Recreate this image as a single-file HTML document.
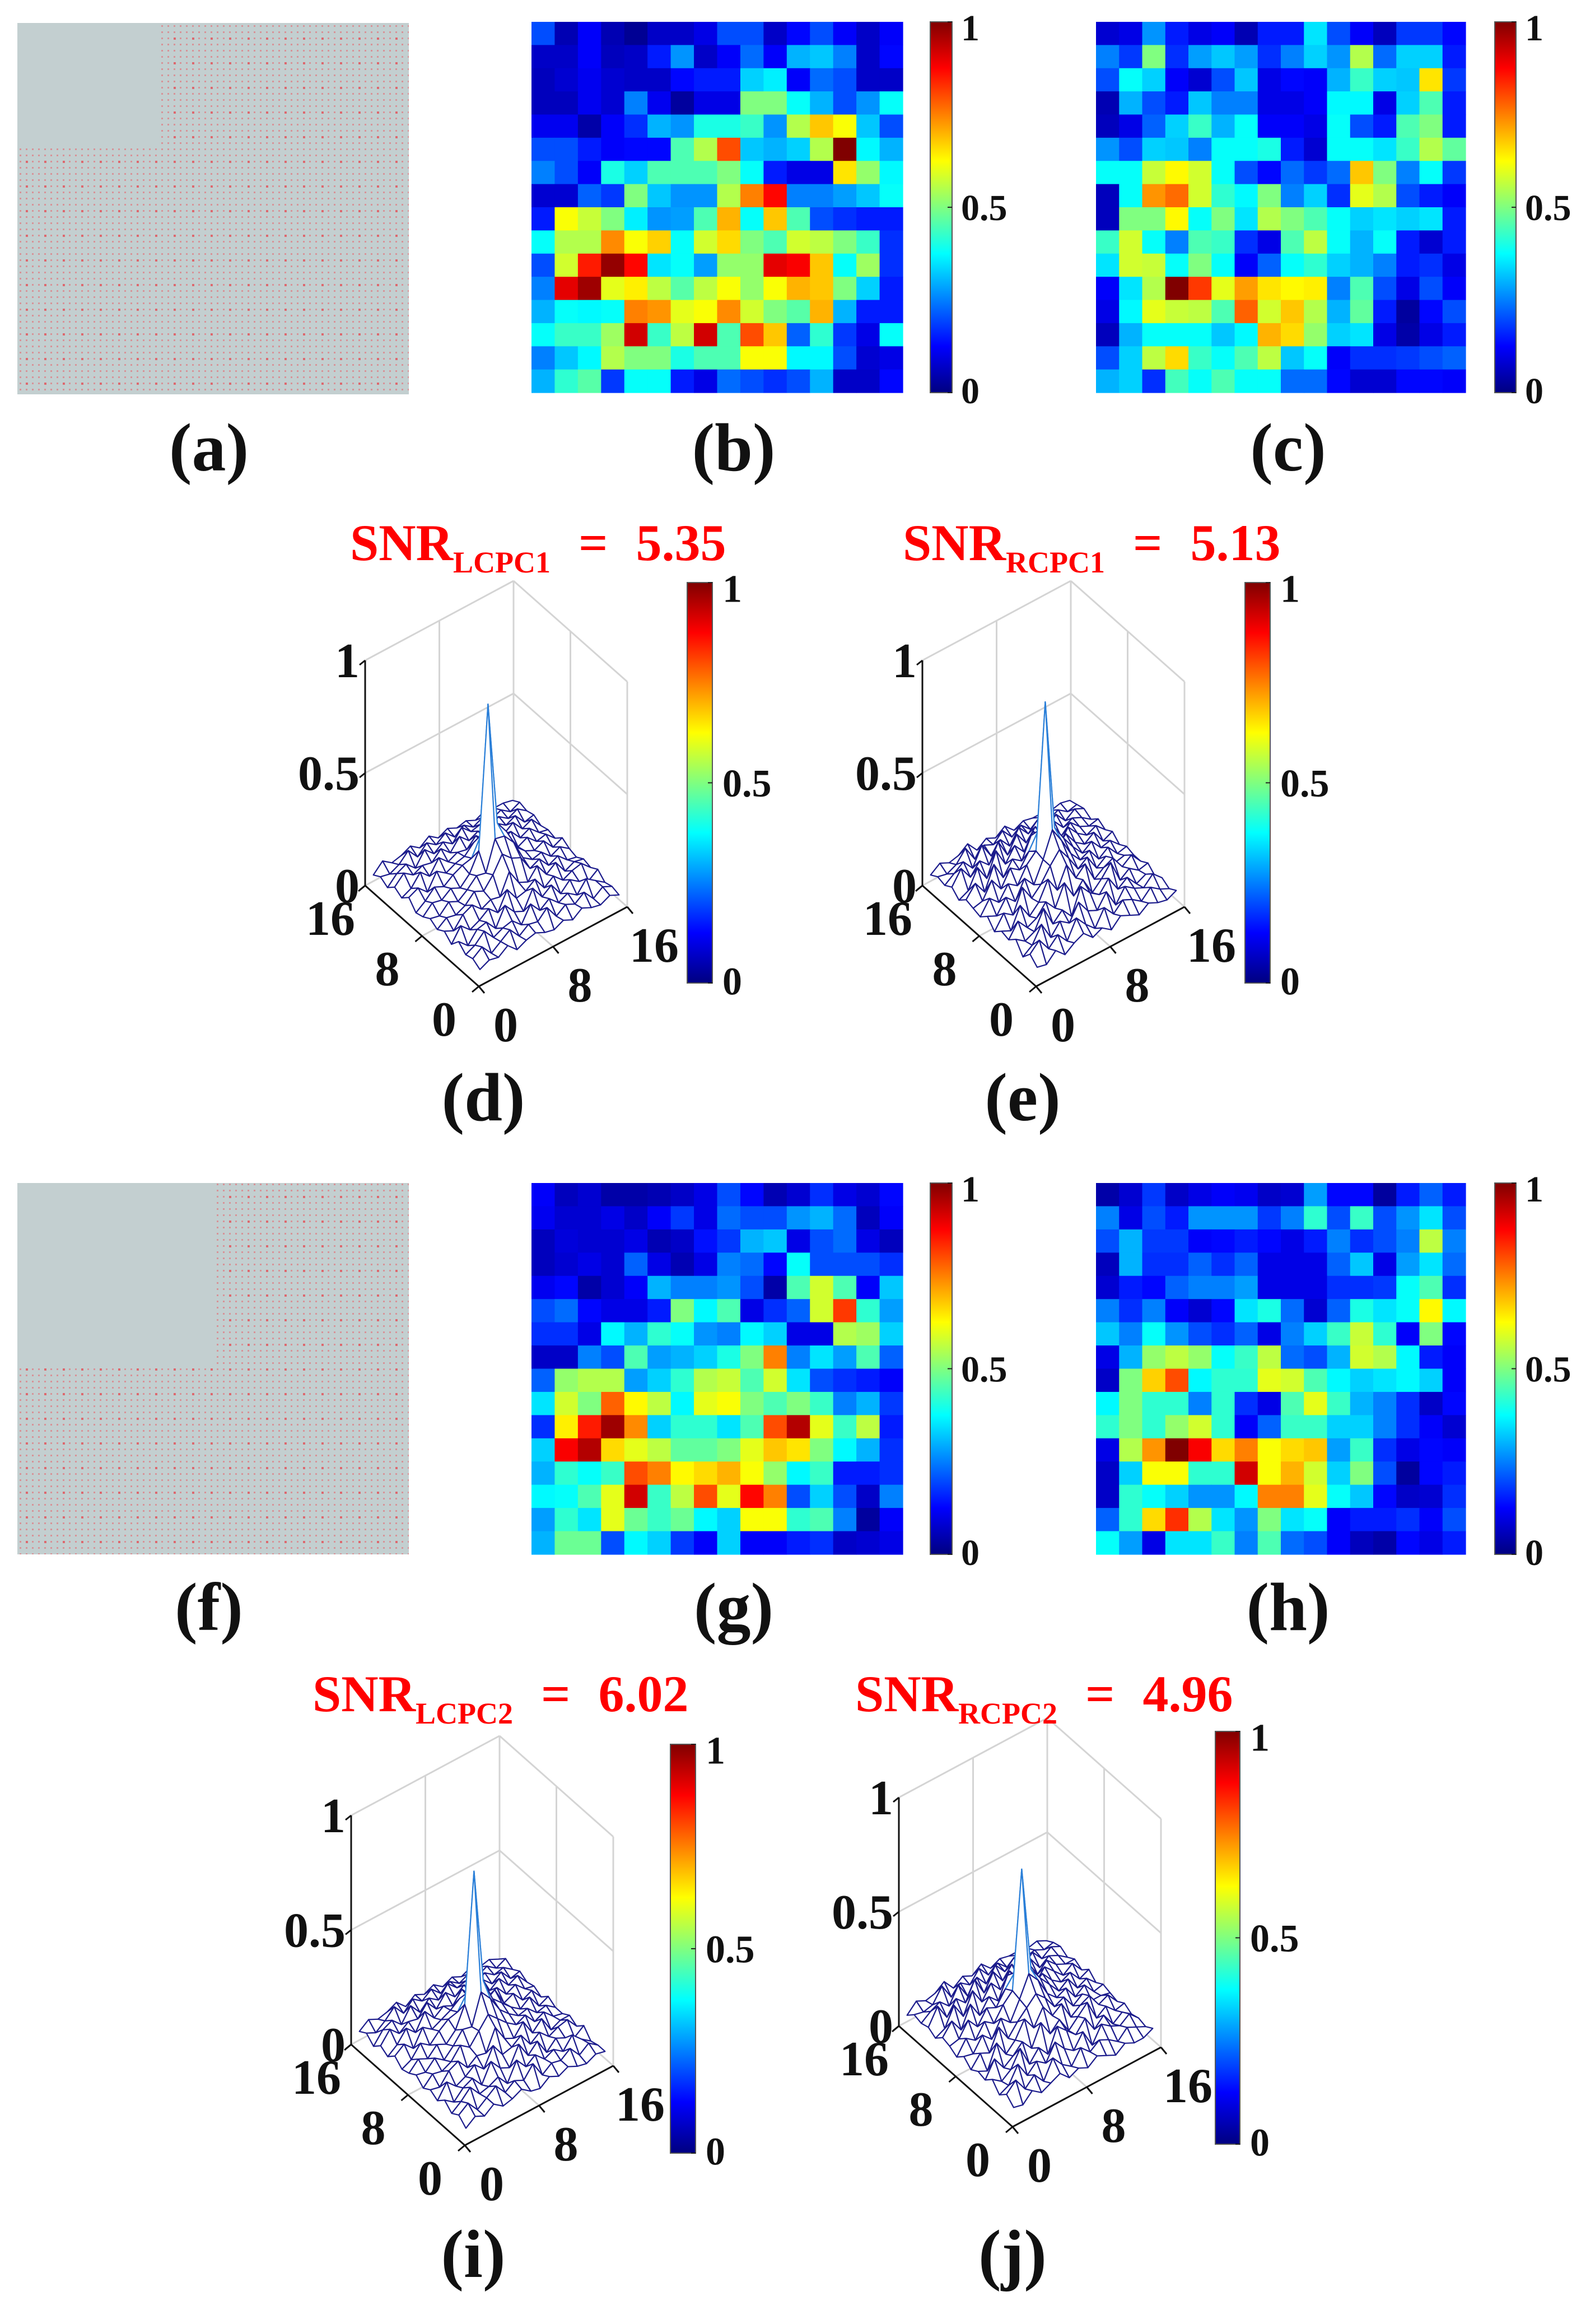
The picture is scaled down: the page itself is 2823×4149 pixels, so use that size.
<!DOCTYPE html>
<html><head><meta charset="utf-8"><style>
html,body{margin:0;padding:0;background:#fff}
svg{display:block}
text{font-family:"Liberation Serif",serif;font-weight:bold}
</style></head><body>
<svg id="fig" xmlns="http://www.w3.org/2000/svg" width="2823" height="4149" viewBox="0 0 2823 4149">
<defs>
<linearGradient id="jet" x1="0" y1="1" x2="0" y2="0">
<stop offset="0" stop-color="#000080"/><stop offset="0.125" stop-color="#0000ff"/><stop offset="0.375" stop-color="#00ffff"/><stop offset="0.625" stop-color="#ffff00"/><stop offset="0.875" stop-color="#ff0000"/><stop offset="1" stop-color="#800000"/>
</linearGradient>
<pattern id="dots" x="31" y="41" width="11" height="11" patternUnits="userSpaceOnUse"><rect x="4" y="4" width="3" height="3" fill="#e07a80" opacity="0.7"/></pattern>
<pattern id="dots2" x="31" y="41" width="33" height="44" patternUnits="userSpaceOnUse"><rect x="15" y="26" width="4" height="4" fill="#e05a60" opacity="0.8"/></pattern>
</defs>
<g>
<rect x="31" y="41" width="699" height="663" fill="#c3cfd0"/>
<rect x="31" y="41" width="699" height="663" fill="url(#dots)"/>
<rect x="31" y="41" width="699" height="663" fill="url(#dots2)"/>
<rect x="31" y="41" width="253" height="216" fill="#c3cfd0"/>
</g>
<g>
<rect x="31" y="2112" width="699" height="663" fill="#c3cfd0"/>
<rect x="31" y="2112" width="699" height="663" fill="url(#dots)"/>
<rect x="31" y="2112" width="699" height="663" fill="url(#dots2)"/>
<rect x="31" y="2112" width="350" height="330" fill="#c3cfd0"/>
</g>
<g id="layer"></g>
<g font-size="122" text-anchor="middle" fill="#111">
<text x="373" y="840">(a)</text>
<text x="1310" y="840">(b)</text>
<text x="2300" y="840">(c)</text>
<text x="863" y="2000">(d)</text>
<text x="1826" y="2000">(e)</text>
<text x="373" y="2910">(f)</text>
<text x="1310" y="2910">(g)</text>
<text x="2300" y="2910">(h)</text>
<text x="845" y="4065">(i)</text>
<text x="1808" y="4065">(j)</text>
</g>
<g fill="#ff0000" font-size="92">
<text x="625" y="1000">SNR<tspan font-size="54" dy="22">LCPC1</tspan><tspan dy="-22" dx="50">=</tspan><tspan dx="50">5.35</tspan></text>
<text x="1612" y="1000">SNR<tspan font-size="54" dy="22">RCPC1</tspan><tspan dy="-22" dx="50">=</tspan><tspan dx="50">5.13</tspan></text>
<text x="558" y="3055">SNR<tspan font-size="54" dy="22">LCPC2</tspan><tspan dy="-22" dx="50">=</tspan><tspan dx="50">6.02</tspan></text>
<text x="1527" y="3055">SNR<tspan font-size="54" dy="22">RCPC2</tspan><tspan dy="-22" dx="50">=</tspan><tspan dx="50">4.96</tspan></text>
</g>
</svg>
<script>
const HEAT_B=[
[.2,.05,.12,.05,.02,.07,.07,.1,.2,.2,.07,.13,.2,.12,.07,.12],
[.07,.07,.12,.06,.07,.15,.27,.07,.12,.23,.12,.3,.32,.25,.07,.13],
[.06,.08,.11,.08,.07,.07,.13,.15,.15,.33,.36,.12,.23,.2,.07,.07],
[.06,.06,.11,.08,.25,.11,.03,.1,.1,.5,.5,.38,.3,.2,.27,.38],
[.11,.11,.04,.12,.17,.3,.27,.4,.4,.43,.27,.55,.68,.62,.32,.2],
[.2,.2,.15,.12,.13,.13,.45,.55,.8,.32,.3,.33,.55,1,.37,.3],
[.25,.2,.12,.4,.33,.45,.45,.45,.5,.38,.15,.1,.1,.65,.52,.37],
[.08,.08,.22,.18,.5,.32,.27,.27,.55,.75,.87,.25,.25,.28,.32,.38],
[.15,.62,.57,.5,.36,.27,.28,.45,.7,.38,.68,.45,.2,.17,.15,.15],
[.38,.55,.55,.74,.62,.67,.38,.58,.66,.5,.45,.58,.56,.5,.43,.17],
[.2,.58,.85,.98,.87,.35,.38,.28,.52,.52,.9,.88,.68,.38,.53,.17],
[.25,.9,.97,.6,.64,.56,.46,.56,.62,.52,.62,.7,.68,.5,.33,.15],
[.3,.38,.37,.38,.75,.73,.6,.62,.74,.58,.5,.46,.7,.3,.15,.15],
[.38,.43,.43,.53,.92,.43,.56,.92,.45,.8,.68,.22,.42,.18,.1,.38],
[.25,.32,.37,.55,.5,.5,.4,.45,.45,.62,.62,.37,.37,.2,.08,.1],
[.3,.42,.46,.18,.38,.38,.15,.1,.23,.2,.17,.2,.3,.07,.07,.13]];
const HEAT_C=[
[.08,.1,.27,.15,.1,.12,.05,.15,.15,.35,.2,.12,.06,.18,.18,.13],
[.25,.18,.5,.17,.28,.32,.28,.17,.25,.33,.27,.55,.23,.33,.33,.15],
[.2,.38,.33,.12,.08,.2,.32,.1,.13,.12,.3,.43,.33,.32,.65,.18],
[.05,.3,.2,.15,.32,.25,.25,.1,.1,.12,.37,.37,.1,.33,.45,.15],
[.06,.1,.22,.33,.43,.3,.38,.12,.12,.1,.38,.2,.15,.45,.5,.15],
[.27,.2,.33,.32,.25,.38,.38,.4,.15,.08,.38,.38,.35,.43,.55,.47],
[.38,.38,.57,.63,.58,.38,.2,.13,.23,.18,.23,.68,.5,.25,.38,.18],
[.06,.38,.73,.77,.58,.42,.37,.5,.25,.33,.17,.6,.55,.2,.15,.12],
[.06,.5,.5,.63,.38,.5,.35,.55,.5,.45,.38,.33,.35,.33,.35,.15],
[.43,.58,.38,.25,.45,.43,.17,.1,.45,.56,.38,.3,.38,.15,.08,.15],
[.35,.58,.57,.38,.5,.38,.12,.22,.38,.42,.33,.3,.25,.15,.17,.1],
[.12,.35,.55,1,.82,.6,.72,.65,.63,.64,.25,.45,.2,.1,.2,.12],
[.1,.37,.6,.57,.56,.45,.78,.58,.68,.55,.3,.47,.15,.03,.13,.2],
[.06,.3,.38,.38,.38,.32,.37,.7,.66,.52,.33,.35,.1,.04,.1,.15],
[.2,.33,.56,.66,.43,.38,.45,.56,.32,.38,.12,.17,.17,.18,.2,.22],
[.3,.33,.17,.44,.38,.45,.38,.38,.23,.23,.13,.08,.08,.13,.13,.12]];
const HEAT_G=[
[.12,.06,.08,.04,.04,.05,.07,.1,.2,.13,.05,.08,.17,.1,.08,.13],
[.11,.08,.08,.1,.07,.12,.18,.1,.23,.2,.2,.27,.3,.23,.06,.12],
[.06,.09,.08,.08,.1,.05,.07,.14,.18,.3,.32,.1,.2,.23,.1,.06],
[.06,.08,.1,.08,.22,.1,.05,.1,.25,.23,.13,.38,.2,.2,.2,.17],
[.11,.13,.04,.08,.12,.3,.25,.25,.27,.2,.04,.45,.58,.45,.12,.32],
[.2,.23,.13,.1,.1,.15,.5,.37,.45,.1,.17,.22,.58,.82,.42,.28],
[.17,.17,.1,.37,.3,.42,.38,.27,.25,.37,.33,.1,.1,.55,.53,.33],
[.07,.07,.25,.2,.45,.28,.3,.33,.4,.5,.75,.25,.35,.28,.45,.22],
[.22,.52,.55,.55,.28,.33,.42,.55,.57,.45,.58,.35,.2,.17,.15,.12],
[.35,.58,.5,.78,.63,.56,.37,.6,.62,.5,.45,.5,.43,.25,.3,.18],
[.17,.64,.85,.97,.74,.33,.42,.42,.35,.45,.8,.95,.6,.43,.56,.15],
[.33,.88,.95,.66,.6,.56,.47,.47,.5,.6,.68,.65,.5,.37,.3,.17],
[.3,.42,.38,.43,.8,.75,.63,.66,.7,.62,.52,.37,.43,.15,.15,.17],
[.37,.38,.45,.6,.92,.43,.56,.8,.6,.87,.75,.2,.33,.2,.07,.25],
[.28,.42,.35,.6,.48,.43,.48,.37,.33,.62,.62,.42,.45,.25,.03,.12],
[.3,.48,.48,.2,.37,.33,.18,.12,.33,.12,.12,.15,.17,.07,.08,.1]];
const HEAT_H=[
[.04,.08,.18,.07,.1,.12,.11,.07,.08,.28,.13,.13,.03,.15,.22,.15],
[.25,.1,.2,.15,.27,.27,.27,.18,.25,.42,.2,.43,.2,.27,.35,.2],
[.2,.3,.18,.18,.12,.13,.15,.13,.1,.15,.25,.17,.2,.25,.56,.25],
[.06,.3,.17,.17,.22,.17,.22,.1,.1,.1,.22,.32,.1,.28,.35,.23],
[.08,.15,.13,.22,.25,.25,.28,.1,.1,.1,.17,.17,.18,.38,.45,.17],
[.25,.17,.25,.12,.08,.13,.35,.4,.23,.08,.22,.4,.35,.38,.63,.37],
[.32,.25,.38,.27,.2,.17,.22,.1,.25,.33,.43,.57,.42,.12,.5,.13],
[.1,.3,.52,.56,.52,.38,.43,.56,.23,.2,.3,.58,.55,.37,.15,.12],
[.07,.5,.67,.8,.37,.42,.42,.6,.58,.45,.37,.33,.35,.37,.33,.12],
[.37,.5,.42,.42,.25,.42,.17,.1,.45,.6,.43,.3,.25,.17,.07,.13],
[.42,.5,.42,.52,.58,.42,.12,.22,.43,.43,.33,.33,.25,.17,.12,.08],
[.1,.55,.73,1,.88,.66,.75,.62,.66,.68,.28,.43,.17,.1,.13,.12],
[.07,.33,.62,.62,.42,.42,.92,.62,.7,.58,.33,.5,.2,.03,.13,.15],
[.07,.42,.38,.33,.27,.27,.37,.75,.75,.6,.38,.32,.13,.07,.08,.17],
[.22,.42,.66,.83,.55,.35,.27,.5,.35,.38,.12,.15,.15,.17,.12,.2],
[.38,.28,.1,.35,.35,.43,.25,.45,.23,.2,.12,.06,.04,.13,.1,.15]];
const SURF_D=[
[5,7,6,9,5,7,8,6,5,7,5,8,6,5,7,5],
[7,10,5,8,11,6,9,8,12,6,9,7,10,5,8,6],
[6,8,12,7,9,10,6,13,8,11,7,9,6,11,8,5],
[9,5,10,11,6,14,9,7,15,9,12,6,10,7,5,8],
[5,11,7,9,12,8,16,10,11,14,8,11,7,9,10,6],
[8,6,11,13,9,11,10,19,12,10,15,9,12,6,8,7],
[6,9,8,10,14,12,17,24,20,18,11,13,8,10,6,5],
[8,7,11,9,12,16,15,28,27,22,13,10,11,7,9,6],
[6,10,9,12,10,14,22,85,30,24,15,11,9,11,6,8],
[5,8,12,10,13,15,16,24,22,15,17,10,12,8,9,5],
[9,11,7,14,11,13,14,18,15,19,12,14,9,11,7,6],
[6,8,13,9,15,11,13,12,16,12,14,10,13,8,10,5],
[8,12,9,11,10,14,10,15,11,13,10,12,9,11,6,7],
[5,9,11,7,13,9,12,9,14,10,11,8,10,7,9,6],
[7,6,8,12,7,11,8,11,7,10,7,9,6,8,5,7],
[5,9,6,7,9,6,9,6,8,6,7,5,7,6,6,5]];
const SURF_E=[
[6,5,9,5,8,10,6,8,5,9,7,5,8,6,5,7],
[9,13,7,11,6,14,9,5,12,7,11,9,6,10,7,5],
[5,8,15,7,12,9,16,10,8,14,6,12,9,7,11,7],
[10,7,9,17,8,12,7,18,13,10,15,8,11,6,8,5],
[7,13,8,10,15,10,19,11,16,8,12,17,7,10,7,8],
[8,6,15,8,12,20,13,22,14,18,9,12,14,8,11,6],
[5,11,8,18,11,15,21,26,20,13,16,9,12,7,8,6],
[9,7,13,9,17,12,21,32,25,17,12,14,8,11,6,7],
[6,12,8,14,11,18,22,86,28,21,15,10,13,8,9,5],
[7,8,15,9,16,13,19,26,23,14,18,12,9,12,6,8],
[8,13,7,17,9,15,12,21,15,19,10,16,11,8,10,6],
[5,7,15,8,18,10,16,11,18,12,16,9,13,9,7,8],
[8,14,8,13,9,17,9,16,10,15,8,13,8,10,8,5],
[6,9,12,7,15,8,13,8,14,9,13,7,11,6,9,7],
[7,6,8,13,6,10,8,12,7,10,6,9,6,8,5,6],
[5,8,6,7,10,5,8,6,9,5,7,6,6,5,6,5]];
const SURF_I=[
[5,8,6,9,6,7,9,6,5,8,6,8,6,5,7,6],
[8,11,6,9,12,7,10,8,13,6,9,8,11,6,9,6],
[6,9,13,8,9,11,6,14,9,12,8,10,7,12,8,5],
[9,6,10,12,7,15,10,8,16,9,13,6,10,8,6,9],
[6,12,8,10,13,9,17,11,12,15,9,12,8,10,11,6],
[8,7,12,14,9,12,11,20,13,11,16,9,13,6,8,8],
[6,10,9,11,16,13,18,23,19,15,12,14,9,11,7,6],
[9,8,12,9,13,18,17,30,25,18,14,11,12,8,9,6],
[7,11,9,13,11,15,24,80,30,20,16,12,9,12,6,8],
[6,8,13,10,14,17,18,24,22,16,19,11,13,8,10,5],
[9,12,8,15,12,14,16,19,17,21,13,15,10,12,8,7],
[6,9,14,10,17,12,15,13,18,13,16,11,14,9,11,6],
[8,13,9,12,11,16,11,16,12,15,11,13,9,12,7,8],
[5,10,12,8,14,9,13,10,15,11,12,9,11,8,9,6],
[8,6,9,13,8,12,9,12,8,11,8,10,7,9,6,8],
[6,9,7,8,10,6,9,7,9,6,8,6,8,6,7,5]];
const SURF_J=[
[6,5,9,6,8,10,6,8,6,9,7,5,8,6,6,8],
[9,13,7,11,6,14,9,6,12,8,11,9,6,10,8,6],
[6,8,15,8,12,9,16,11,8,14,6,13,10,8,11,7],
[10,7,10,17,8,13,8,18,14,10,15,8,12,6,9,6],
[7,14,8,11,15,10,19,12,16,9,13,17,8,11,7,8],
[8,6,16,9,13,20,14,21,15,18,10,13,15,9,11,6],
[6,11,9,18,11,16,20,24,20,14,16,10,13,8,8,7],
[9,8,14,10,17,13,21,30,25,17,13,15,9,12,7,8],
[6,12,9,15,12,18,22,73,27,21,16,11,14,8,10,6],
[8,9,15,10,16,14,20,25,23,15,18,13,10,12,7,9],
[9,14,8,17,10,16,12,21,16,19,11,16,12,8,11,6],
[6,8,16,9,18,11,17,12,18,12,17,10,14,10,8,8],
[8,15,8,14,10,18,10,17,11,16,9,14,8,11,9,6],
[7,10,12,8,15,8,14,9,15,10,14,8,12,7,10,8],
[8,7,8,14,7,11,8,13,8,11,7,10,7,8,6,7],
[5,9,7,8,11,6,9,7,10,6,8,7,7,6,7,5]];
const CB_TICKS=["0","0.5","1"];
const CB_VALUES=[0,0.5,1];
const AXIS_TICKS=[0,8,16];

const NS="http://www.w3.org/2000/svg";
const layer=document.getElementById('layer');
function mk(tag,attrs,parent){const e=document.createElementNS(NS,tag);for(const k in attrs)e.setAttribute(k,attrs[k]);(parent||layer).appendChild(e);return e;}
function cl(v){return Math.max(0,Math.min(1,v));}
function jet(v){const r=cl(1.5-Math.abs(4*v-3)),g=cl(1.5-Math.abs(4*v-2)),b=cl(1.5-Math.abs(4*v-1));return `rgb(${Math.round(r*255)},${Math.round(g*255)},${Math.round(b*255)})`;}

function colorbar(name,x,y,w,h,lx,fs){
  const g=mk('g',{});
  
  
  mk('rect',{x:x,y:y,width:w,height:h,fill:'url(#jet)',stroke:'#555','stroke-width':2},g);
  CB_VALUES.forEach((v,k)=>{
    const ty=y+h-v*h;
    mk('line',{x1:x+w-8,x2:x+w,y1:ty,y2:ty,stroke:'#222','stroke-width':2},g);
    const t=mk('text',{x:lx,y:ty+fs*0.35+(v===1?10:(v===0?-4:0)),'font-size':fs,fill:'#111'},g);
    
    
    t.textContent=CB_TICKS[k];
  });
}

function heatmap(name,data,x0,y0,w,h){
  const g=mk('g',{});
  
  
  const n=data.length,m=data[0].length,cw=w/m,ch=h/n;
  data.forEach((row,r)=>row.forEach((v,c)=>{
    const cell=mk('rect',{x:x0+c*cw,y:y0+r*ch,width:cw+0.6,height:ch+0.6,fill:jet(v)},g);
    
    
  }));
}

function surface(name,data,dx,dy,zs){
  const g=mk('g',{});
  
  
  const F=[855+dx,1761+dy],EX=[265/16,-142/16],EY=[-203/16,-180/16];
  const P=(x,y,z)=>[F[0]+x*EX[0]+y*EY[0],F[1]+x*EX[1]+y*EY[1]-z*zs];
  const pl=(a,b,st,sw)=>mk('line',{x1:a[0],y1:a[1],x2:b[0],y2:b[1],stroke:st,'stroke-width':sw},g);
  const grey='#d4d4d4';
  [[0,16],[8,16],[16,16],[16,8],[16,0]].forEach(p=>pl(P(p[0],p[1],0),P(p[0],p[1],1),grey,3));
  [0,0.5,1].forEach(z=>{pl(P(0,16,z),P(16,16,z),grey,3);pl(P(16,16,z),P(16,0,z),grey,3);});
  pl(P(8,0,0),P(8,16,0),grey,3);pl(P(0,8,0),P(16,8,0),grey,3);
  const n=data.length;
  const X=i=>0.5+i*15/(n-1);
  const quads=[];
  for(let j=0;j<n-1;j++)for(let i=0;i<n-1;i++)quads.push([i,j]);
  quads.sort((a,b)=>(b[0]+b[1])-(a[0]+a[1]));
  quads.forEach(([i,j])=>{
    const z=(a,b)=>data[b][a]/100;
    const pts=[[i,j],[i+1,j],[i+1,j+1],[i,j+1]].map(q=>P(X(q[0]),X(q[1]),z(q[0],q[1])));
    const mx=Math.max(z(i,j),z(i+1,j),z(i+1,j+1),z(i,j+1));
    const poly=mk('polygon',{points:pts.map(p=>p.join(',')).join(' '),fill:'#fff',stroke:mx>0.5?'#2a7fd8':'#1c1c8c','stroke-width':2.2,'stroke-linejoin':'round'},g);
    
    
  });
  const L0=P(0,16,0),L1=P(0,16,1);
  pl(L0,L1,'#111',3);
  [0,0.5,1].forEach(z=>{const p=P(0,16,z);pl(p,[p[0]-10,p[1]+8],'#111',3);
    const t=mk('text',{x:p[0]-10,y:p[1]+30,'font-size':88,'text-anchor':'end',fill:'#111'},g);
    
    t.textContent=String(z);});
  pl(P(0,16,0),P(0,0,0),'#111',3);pl(P(0,0,0),P(16,0,0),'#111',3);
  AXIS_TICKS.forEach(v=>{
    const a=P(0,v,0);pl(a,[a[0]-12,a[1]+10],'#111',3);
    const t=mk('text',{x:a[0]-62,y:a[1]+88,'font-size':88,'text-anchor':'middle',fill:'#111'},g);
    
    t.textContent=String(v);
    const b=P(v,0,0);pl(b,[b[0]+10,b[1]+12],'#111',3);
    const u=mk('text',{x:b[0]+48,y:b[1]+98,'font-size':88,'text-anchor':'middle',fill:'#111'},g);
    
    u.textContent=String(v);
  });
}

heatmap('heatmap-b',HEAT_B,949,39,663,662);
colorbar('colorbar-b',1661,39,39,662,1716,66);
heatmap('heatmap-c',HEAT_C,1957,39,660,662);
colorbar('colorbar-c',2669,39,38,662,2723,66);
heatmap('heatmap-g',HEAT_G,949,2112,663,663);
colorbar('colorbar-g',1661,2112,39,663,1716,66);
heatmap('heatmap-h',HEAT_H,1957,2112,660,663);
colorbar('colorbar-h',2669,2112,38,663,2723,66);
surface('surface-d',SURF_D,0,0,402);
colorbar('colorbar-d',1227,1040,45,715,1290,70);
surface('surface-e',SURF_E,995,0,402);
colorbar('colorbar-e',2223,1040,45,715,2286,70);
surface('surface-i',SURF_I,-25,2069,409);
colorbar('colorbar-i',1197,3114,45,730,1260,70);
surface('surface-j',SURF_J,953,2036,408);
colorbar('colorbar-j',2170,3091,44,737,2232,70);
</script>
</body></html>
